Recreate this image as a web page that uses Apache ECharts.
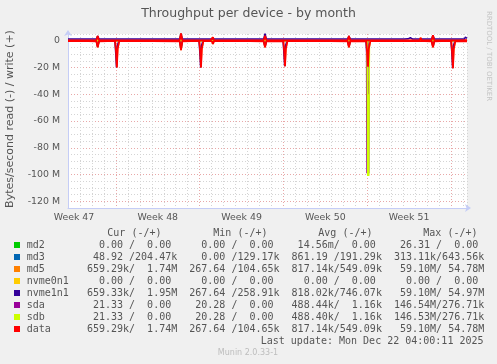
<!DOCTYPE html>
<html><head><meta charset="utf-8">
<script src="https://cdn.jsdelivr.net/npm/echarts@6/dist/echarts.min.js"></script>
<style>html,body{margin:0;padding:0;background:#f0f0f0}#c{width:497px;height:364px}</style>
</head><body><div id="c"></div>
<script>
// x in days from left edge of plot, y in MB/s (M); reads negative, writes positive
const weekLabels = ['Week 47', 'Week 48', 'Week 49', 'Week 50', 'Week 51'];
const weekLabelDays = [0.5, 7.5, 14.5, 21.5, 28.5];
const devices = ['md2', 'md3', 'md5', 'nvme0n1', 'nvme1n1', 'sda', 'sdb', 'data'];
const colors = ['#00cc00', '#0066b3', '#ff8000', '#ffcc00', '#330099', '#990099', '#ccff00', '#ff0000'];

const md2Read = [[0, 0], [33.33, 0]];
const md2Write = [[0, 0], [33.33, 0]];
const md3Read = [[0, 0], [33.33, 0]];
const md3Write = [[0, 0.2], [9.4, 0.3], [20.1, 0.2], [33.33, 0.2]];
const nvme0n1Read = [[0, 0], [33.33, 0]];
const nvme0n1Write = [[0, 0], [33.33, 0]];

const dataRead = [[0,-0.3],[0.6,-0.3],[0.7,-1.0],[0.8,-0.3],[1.5,-0.3],[1.6,-0.7],[1.7,-0.3],[2.37,-0.4],[2.48,-5],[2.59,-0.4],
 [3.3,-0.3],[3.4,-1.0],[3.5,-0.3],[3.94,-0.3],[4.02,-9],[4.08,-20],[4.15,-6],[4.28,-0.3],[5.1,-0.3],[5.2,-1.2],[5.3,-0.3],
 [6.8,-0.3],[6.9,-0.9],[7.0,-0.3],[9.33,-0.4],[9.44,-7],[9.55,-0.4],[10.3,-0.3],[10.4,-1.0],[10.5,-0.3],
 [10.97,-0.3],[11.05,-9],[11.11,-20],[11.18,-6],[11.31,-0.3],[12.02,-0.3],[12.11,-2.4],[12.2,-0.3],[12.74,-0.3],[12.84,-1.1],
 [12.94,-0.3],[13.7,-0.3],[13.8,-1.0],[13.9,-0.3],[15.0,-0.3],[15.1,-0.9],[15.2,-0.3],[16.35,-0.4],[16.46,-5],[16.57,-0.4],
 [17.99,-0.3],[18.07,-9],[18.13,-19],[18.2,-6],[18.33,-0.3],[19.2,-0.3],[19.3,-1.0],[19.4,-0.3],[20.5,-0.3],[20.6,-0.9],
 [20.7,-0.3],[21.7,-0.3],[21.8,-0.8],[21.9,-0.3],[23.36,-0.4],[23.47,-5],[23.58,-0.4],[24.92,-0.3],[25.0,-10],[25.06,-19.5],
 [25.13,-6],[25.26,-0.3],[26.2,-0.3],[26.3,-1.0],[26.4,-0.3],[27.4,-0.3],[27.5,-0.9],[27.6,-0.3],[28.6,-0.3],[28.7,-1.1],
 [28.8,-0.3],[29.6,-0.3],[29.7,-0.8],[29.8,-0.3],[30.38,-0.4],[30.49,-5],[30.6,-0.4],[31.2,-0.3],[31.3,-0.9],[31.4,-0.3],
 [32.02,-0.3],[32.1,-10],[32.16,-20.5],[32.23,-6],[32.36,-0.3],[33.33,-0.4]];
const dataWrite = [[0,0.2],[0.8,0.2],[0.9,1.0],[1.0,0.2],[1.7,0.2],[1.8,0.8],[1.9,0.2],[2.37,0.3],[2.48,3.5],[2.59,0.3],
 [3.5,0.2],[3.6,0.9],[3.7,0.2],[4.5,0.2],[4.6,0.8],[4.7,0.2],[5.6,0.2],[5.7,0.9],[5.8,0.2],[6.6,0.2],[6.7,0.7],[6.8,0.2],
 [7.7,0.2],[7.8,0.9],[7.9,0.2],[8.6,0.2],[8.7,0.8],[8.8,0.2],[9.33,0.3],[9.44,5.5],[9.55,0.3],[10.5,0.2],[10.6,0.9],
 [10.7,0.2],[11.7,0.2],[11.8,0.8],[11.9,0.2],[12.02,0.3],[12.11,2.5],[12.2,0.3],[12.74,0.2],[12.84,1.3],[12.94,0.2],
 [13.6,0.2],[13.7,1.2],[13.8,0.2],[14.35,0.2],[14.45,1.1],[14.55,0.2],[15.3,0.2],[15.4,0.8],[15.5,0.2],[16.35,0.3],
 [16.46,3.7],[16.57,0.3],[17.4,0.2],[17.5,0.8],[17.6,0.2],[18.75,0.2],[18.85,1.3],[18.95,0.2],[19.8,0.2],[19.9,0.8],
 [20.0,0.2],[20.9,0.2],[21.0,0.9],[21.1,0.2],[22.3,0.2],[22.4,0.8],[22.5,0.2],[23.36,0.3],[23.47,3.5],[23.58,0.3],
 [24.4,0.2],[24.5,0.8],[24.6,0.2],[25.5,0.2],[25.6,0.9],[25.7,0.2],[26.6,0.2],[26.7,0.8],[26.8,0.2],[27.7,0.2],[27.8,0.9],
 [27.9,0.2],[28.45,0.2],[28.55,0.9],[28.65,0.2],[29.38,0.3],[29.46,2.2],[29.55,0.3],[30.38,0.3],[30.49,4.0],[30.6,0.3],
 [31.4,0.2],[31.5,1.0],[31.6,0.2],[32.4,0.2],[32.5,0.8],[32.6,0.2],[33.33,0.4]];
const md5Read = dataRead;   // md5 figures are identical to data
const md5Write = dataWrite;

const nvme1n1Read = [[0,-0.3],[2.37,-0.4],[2.48,-4.6],[2.59,-0.4],[3.92,-0.3],[4.0,-11],[4.05,-20],[4.11,-4],[4.24,-0.3],
 [9.33,-0.4],[9.44,-6.5],[9.55,-0.4],[10.95,-0.3],[11.03,-11],[11.08,-20],[11.14,-4],[11.27,-0.3],[16.35,-0.4],
 [16.46,-4.6],[16.57,-0.4],[17.97,-0.3],[18.05,-11],[18.1,-19],[18.16,-4],[18.29,-0.3],[23.36,-0.4],[23.47,-4.6],
 [23.58,-0.4],[24.9,-0.3],[24.98,-12],[25.03,-19.5],[25.09,-4],[25.22,-0.3],[30.38,-0.4],[30.49,-4.6],[30.6,-0.4],
 [32.0,-0.3],[32.08,-11],[32.13,-20.5],[32.19,-4],[32.32,-0.3],[33.33,-0.3]];
const nvme1n1Write = [[0,1.2],[2.37,1.2],[2.48,3.4],[2.59,1.2],[9.33,1.2],[9.44,5.2],[9.55,1.2],[16.35,1.2],[16.46,5.4],
 [16.57,1.2],[23.36,1.2],[23.47,3.4],[23.58,1.2],[28.1,1.2],[28.2,2.4],[28.4,1.4],[28.6,2.2],[28.8,1.2],[30.38,1.2],
 [30.49,3.9],[30.6,1.2],[33.1,1.2],[33.2,2.7],[33.33,1.8]];

const sdaRead = [[0,0],[24.94,0],[24.98,-99],[25.05,-30],[25.12,-99],[25.16,0],[33.33,0]];
const sdaWrite = [[0,0],[33.33,0]];
const sdbRead = [[0,0],[24.99,0],[25.04,-101],[25.09,-40],[25.13,-101],[25.18,0],[33.33,0]];
const sdbWrite = [[0,0],[33.33,0]];

const readSeries = [md2Read, md3Read, md5Read, nvme0n1Read, nvme1n1Read, sdaRead, sdbRead, dataRead];
const writeSeries = [md2Write, md3Write, md5Write, nvme0n1Write, nvme1n1Write, sdaWrite, sdbWrite, dataWrite];

const legendHeaders = ['Cur (-/+)', 'Min (-/+)', 'Avg (-/+)', 'Max (-/+)'];
const legendCells = [
  ['  0.00 /  0.00 ', '  0.00 /  0.00 ', ' 14.56m/  0.00 ', ' 26.31 /  0.00 '],
  [' 48.92 /204.47k', '  0.00 /129.17k', '861.19 /191.29k', '313.11k/643.56k'],
  ['659.29k/  1.74M', '267.64 /104.65k', '817.14k/549.09k', ' 59.10M/ 54.78M'],
  ['  0.00 /  0.00 ', '  0.00 /  0.00 ', '  0.00 /  0.00 ', '  0.00 /  0.00 '],
  ['659.33k/  1.95M', '267.64 /258.91k', '818.02k/746.07k', ' 59.10M/ 54.97M'],
  [' 21.33 /  0.00 ', ' 20.28 /  0.00 ', '488.44k/  1.16k', '146.54M/276.71k'],
  [' 21.33 /  0.00 ', ' 20.28 /  0.00 ', '488.40k/  1.16k', '146.53M/276.71k'],
  ['659.29k/  1.74M', '267.64 /104.65k', '817.14k/549.09k', ' 59.10M/ 54.78M']
];
const lastUpdate = 'Last update: Mon Dec 22 04:00:11 2025';
const titleText = 'Throughput per device - by month';
const yAxisName = 'Bytes/second read (-) / write (+)';

const chart = echarts.init(document.getElementById('c'), null, {renderer: 'canvas'});
const G = '#d4d4d4', R = '#e8a8a8';
const txt = '#555';
const series = [];
devices.forEach((d, i) => {
  [readSeries[i], writeSeries[i]].forEach((arr) => {
    const flat = arr.every(p => Math.abs(p[1]) < 0.5);
    series.push({
      type: 'line', name: d, data: arr, showSymbol: false, symbol: 'none',
      lineStyle: {color: colors[i], width: d === 'data' ? 1.8 : (flat ? 1 : 1.5)}, itemStyle: {color: colors[i]},
      animation: false, silent: true
    });
  });
});

const graphic = [];
graphic.push({type: 'text', x: 248.5, y: 13.5, style: {text: titleText, font: '12.5px "DejaVu Sans"', fill: txt, align: 'center', verticalAlign: 'middle', textAlign: 'center', textVerticalAlign: 'middle'}});
graphic.push({type: 'text', x: 10.5, y: 119, rotation: Math.PI / 2, style: {text: yAxisName, font: '11px "DejaVu Sans"', fill: txt, align: 'center', verticalAlign: 'middle', textAlign: 'center', textVerticalAlign: 'middle'}});
graphic.push({type: 'text', x: 488.5, y: 56, rotation: -Math.PI / 2, style: {text: 'RRDTOOL / TOBI OETIKER', font: '7px "DejaVu Sans"', fill: '#c4c4c4', align: 'center', verticalAlign: 'middle', textAlign: 'center', textVerticalAlign: 'middle'}});
const headerX = [107.3, 213.3, 318.3, 423.3];
legendHeaders.forEach((h, i) => {
  graphic.push({type: 'text', x: headerX[i], y: 233.5, style: {text: h, font: '10px "DejaVu Sans Mono"', fill: txt, align: 'left', verticalAlign: 'middle', textAlign: 'left', textVerticalAlign: 'middle'}});
});
devices.forEach((d, i) => {
  const yc = 245.3 + i * 12;
  graphic.push({type: 'rect', shape: {x: 14, y: Math.round(yc - 3), width: 6, height: 6}, style: {fill: colors[i]}});
  const line = d.padEnd(10, ' ') + legendCells[i].join('  ');
  graphic.push({type: 'text', x: 26.7, y: yc, style: {text: line, font: '10px "DejaVu Sans Mono"', fill: txt, align: 'left', verticalAlign: 'middle', textAlign: 'left', textVerticalAlign: 'middle'}});
});
graphic.push({type: 'text', x: 483.5, y: 341.3, style: {text: lastUpdate, font: '10px "DejaVu Sans Mono"', fill: txt, align: 'right', verticalAlign: 'middle', textAlign: 'right', textVerticalAlign: 'middle'}});
graphic.push({type: 'text', x: 248, y: 353.3, style: {text: 'Munin 2.0.33-1', font: '8px "DejaVu Sans"', fill: '#bdbdbd', align: 'center', verticalAlign: 'middle', textAlign: 'center', textVerticalAlign: 'middle'}});

chart.setOption({
  backgroundColor: '#f0f0f0',
  animation: false,
  grid: {left: 68, right: 30, top: 34, bottom: 156, show: true, backgroundColor: '#ffffff', borderWidth: 0, containLabel: false},
  xAxis: {
    type: 'value', min: 0, max: 400 / 12, interval: 1,
    axisLine: {show: true, onZero: false, lineStyle: {color: '#c5cdf6', width: 1}, symbol: ['none', 'arrow'], symbolSize: [6, 6], symbolOffset: [0, 4]},
    axisTick: {show: false},
    axisLabel: {
      customValues: weekLabelDays, margin: 5, color: txt, fontFamily: 'DejaVu Sans', fontSize: 9.4,
      formatter: (v) => { const k = weekLabelDays.findIndex(w => Math.abs(w - v) < 1e-6); return k >= 0 ? weekLabels[k] : ''; }
    },
    splitLine: {show: true, lineStyle: {type: [1, 2], width: 1, color: [G, G, G, G, R, G, G]}}
  },
  yAxis: {
    type: 'value', min: -125, max: 5, interval: 5,
    axisLine: {show: true, onZero: false, lineStyle: {color: '#c5cdf6', width: 1}, symbol: ['none', 'arrow'], symbolSize: [6, 6], symbolOffset: [0, 4]},
    axisTick: {show: false},
    axisLabel: {
      margin: 8, color: txt, fontFamily: 'DejaVu Sans', fontSize: 9.4,
      formatter: (v) => (Math.abs(v % 20) < 1e-6 ? (v === 0 ? '0' : v + ' M') : '')
    },
    splitLine: {show: true, lineStyle: {type: [1, 2], width: 1, color: [G, R, G, G]}}
  },
  series: series,
  graphic: graphic
});
</script></body></html>
